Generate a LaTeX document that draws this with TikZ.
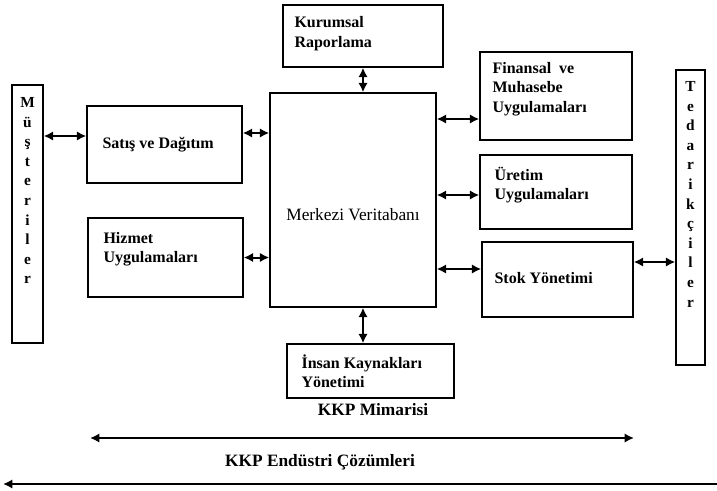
\documentclass[tikz,border=0pt]{standalone}
\usepackage{fontspec}
\setmainfont{Liberation Serif}
\usetikzlibrary{arrows.meta,positioning}

\tikzset{
  fr/.style 2 args={draw,line width=1.1pt,inner sep=0pt,minimum width=#1*0.75pt,minimum height=#2*0.75pt},
  txt/.style={inner sep=0pt,align=left,font=\bfseries\fontsize{12}{14.6}\selectfont},
  vtxt/.style={inner sep=0pt,align=center,font=\bfseries\fontsize{11.5}{14.7}\selectfont},
  head/.style={inner sep=0pt,font=\bfseries\fontsize{13}{15}\selectfont},
  dbl/.style={{Latex[length=7pt,width=7pt]}-{Latex[length=7pt,width=7pt]},line width=1.5pt},
}

\begin{document}
\begin{tikzpicture}[x=0.75pt,y=-0.75pt]
  \useasboundingbox (0,0) rectangle (717,490);

  % side bars
  \node[fr={31}{258}] (mus) at (27.5,214) {};
  \node[vtxt] (muslbl) [below=9.75pt of mus.north] {M\\ü\\ş\\t\\e\\r\\i\\l\\e\\r};
  \node[fr={29}{295}] (ted) at (690.5,217.5) {};
  \node[vtxt] (tedlbl) [below=9pt of ted.north] {T\\e\\d\\a\\r\\i\\k\\ç\\i\\l\\e\\r};

  % boxes
  \node[fr={160}{62}] (kur) at (363,36) {};
  \node[txt] (kurt) [below right=9pt and 9pt of kur.north west] {Kurumsal\\Raporlama};
  \node[fr={155}{77}] (sat) at (164.5,144.5) {};
  \node[txt] (satt) [below right=24pt and 12pt of sat.north west] {Satış ve Dağıtım};
  \node[fr={155}{79}] (hiz) at (165.5,257.5) {};
  \node[txt] (hizt) [below right=11pt and 12pt of hiz.north west] {Hizmet\\Uygulamaları};
  \node[fr={166}{214}] (mer) at (353,200) {};
  \node[inner sep=0pt,font=\fontsize{13}{15}\selectfont] (mert) [below=6pt of mer.center] {Merkezi Veritabanı};
  \node[fr={167}{54}] (ins) at (370.5,371) {};
  \node[txt] (inst) [below right=8.25pt and 11.25pt of ins.north west] {İnsan Kaynakları\\Yönetimi};
  \node[fr={152}{88}] (fin) at (556,96) {};
  \node[txt] (fint) [below right=8pt and 9.75pt of fin.north west] {Finansal\ \ ve\\Muhasebe\\Uygulamaları};
  \node[fr={152}{74}] (ure) at (556,192) {};
  \node[txt] (uret) [below right=9.5pt and 11.25pt of ure.north west] {Üretim\\Uygulamaları};
  \node[fr={151}{75}] (sto) at (557.5,279.5) {};
  \node[txt] (stot) [below right=23pt and 9.75pt of sto.north west] {Stok Yönetimi};

  % connectors
  \path[dbl]
    (mus.east |- 0,136) edge (sat.west |- 0,136)
    (sat.east |- 0,133) edge (mer.west |- 0,133)
    (hiz.east) edge (hiz.east -| mer.west)
    (kur.south) edge (kur.south |- mer.north)
    (mer.south -| 363,0) edge (ins.north -| 363,0)
    (mer.east |- 0,119) edge (fin.west |- 0,119)
    (mer.east |- 0,195) edge (ure.west |- 0,195)
    (mer.east |- 0,269) edge (sto.west |- 0,269)
    (sto.east |- 0,262) edge (ted.west |- 0,262);

  % bottom scale
  \node[head] (mim) at (373,410) {KKP Mimarisi};
  \coordinate (mimL) at (90,438);
  \coordinate (mimR) at (634,438);
  \draw[dbl] (mimL) -- (mimR);
  \node[head] (end) at (320,462) {KKP Endüstri Çözümleri};
  \coordinate (endL) at (3,484);
  \coordinate (endR) at (717,484);
  \draw[dbl,-{Latex[length=7pt,width=7pt]}] (endR) -- (endL);
\end{tikzpicture}
\end{document}
